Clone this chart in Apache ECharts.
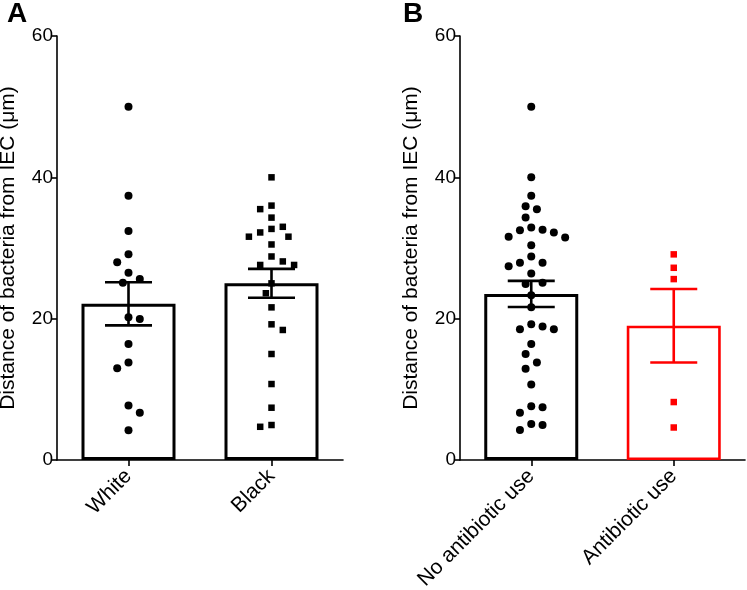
<!DOCTYPE html>
<html>
<head>
<meta charset="utf-8">
<script src="https://cdn.jsdelivr.net/npm/echarts@6/dist/echarts.min.js"></script>
<style>html,body{margin:0;padding:0;background:#fff}#c{width:747px;height:590px}</style>
</head>
<body>
<div id="c"></div>
<script>
// ---------- data ----------
const panelACategories = ['White', 'Black'];
const panelBCategories = ['No antibiotic use', 'Antibiotic use'];
const yTicks = [0, 20, 40, 60];
const yAxisTitle = 'Distance of bacteria from IEC (\u03bcm)';

const whiteValues = [50, 37.4, 32.4, 29.1, 28.0, 26.5, 25.6, 25.1, 20.2, 19.95, 16.4, 13.8, 13.0, 7.7, 6.7, 4.2];
const blackValues = [40, 36.0, 35.5, 34.3, 32.7, 33.0, 31.6, 32.2, 31.6, 30.5, 28.8, 28.1, 27.6, 27.6, 25.0, 23.6,
                     21.6, 19.2, 18.4, 15.0, 10.75, 7.4, 4.95, 4.7];
const noAntibioticValues = [50, 40, 37.4, 35.5, 35.9, 34.3, 32.9, 32.5, 32.6, 31.6, 32.2, 31.5, 30.4, 28.8, 27.9, 27.4, 27.9,
                            26.4, 24.9, 25.1, 23.3, 21.6, 19.2, 18.5, 18.5, 18.9, 16.4, 15.0, 13.8, 12.9, 10.7,
                            7.45, 6.7, 7.6, 5.1, 4.25, 4.95];
const antibioticValues = [29.1, 27.2, 25.6, 8.2, 4.6];

const panelAMeans = [22.1, 25.0];
const panelASEM = [3.05, 2.05];
const panelBMeans = [23.5, 19.0];
const panelBSEM = [1.85, 5.2];

// ---------- layout / style ----------
const FONT = '"Liberation Sans", Arial, Helvetica, sans-serif';
const GRID_TOP = 36, GRID_H = 424;
const gridA = {left: 57, top: GRID_TOP, width: 286, height: GRID_H, outerBoundsMode: 'none', containLabel: false};
const gridB = {left: 460, top: GRID_TOP, width: 285, height: GRID_H, outerBoundsMode: 'none', containLabel: false};
const RED = '#ff0000', BLACK = '#000000';

// simple beeswarm: returns x offsets (in category units) computed from values
function swarm(values, bandPx) {
  const pxPerUnit = GRID_H / 60;
  const D = 11.3, STEP = 5.65;
  const order = values.map((v, i) => i).sort((a, b) => values[b] - values[a]);
  const placed = [];
  const offs = new Array(values.length).fill(0);
  let pref = -1;
  order.forEach(i => {
    const y = values[i] * pxPerUnit;
    const free = x => placed.every(p => Math.hypot(p[0] - x, p[1] - y) >= D - 0.01);
    let chosen = 0;
    if (!free(0)) {
      for (let k = 1; k < 20; k++) {
        const a = pref * k * STEP, b = -pref * k * STEP;
        if (free(a)) { chosen = a; pref = -pref; break; }
        if (free(b)) { chosen = b; break; }
      }
    }
    placed.push([chosen, y]);
    offs[i] = chosen / bandPx;
  });
  return offs;
}

function scatterData(values, catIndex, bandPx) {
  const offs = swarm(values, bandPx);
  return values.map((v, i) => [catIndex + offs[i], v]);
}

function errRender(params, api) {
  const x = api.value(0), m = api.value(1), e = api.value(2);
  const top = api.coord([x, m + e]);
  const bot = api.coord([x, m - e]);
  const hw = 23.5;
  const color = api.visual('color');
  const st = {stroke: color, lineWidth: 2.6};
  return {
    type: 'group',
    children: [
      {type: 'line', shape: {x1: top[0], y1: top[1], x2: bot[0], y2: bot[1]}, style: st},
      {type: 'line', shape: {x1: top[0] - hw, y1: top[1], x2: top[0] + hw, y2: top[1]}, style: st},
      {type: 'line', shape: {x1: bot[0] - hw, y1: bot[1], x2: bot[0] + hw, y2: bot[1]}, style: st}
    ]
  };
}

function yAxisDef(gridIndex) {
  return {
    type: 'value', gridIndex, min: yTicks[0], max: yTicks[yTicks.length - 1], interval: yTicks[1] - yTicks[0],
    name: yAxisTitle, nameLocation: 'middle', nameGap: 38,
    nameTextStyle: {fontFamily: FONT, fontSize: 21, color: '#000'},
    axisLine: {show: true, onZero: false, lineStyle: {color: '#000', width: 1.6}},
    axisTick: {show: true, length: 5, lineStyle: {color: '#000', width: 1.6}},
    axisLabel: {fontFamily: FONT, fontSize: 19, color: '#000', margin: 4},
    splitLine: {show: false}
  };
}
function catAxisDef(gridIndex, cats) {
  return {
    type: 'category', gridIndex, data: cats,
    axisLine: {show: true, onZero: false, lineStyle: {color: '#000', width: 1.6}},
    axisTick: {show: true, alignWithLabel: true, length: 6, lineStyle: {color: '#000', width: 1.6}},
    axisLabel: {fontFamily: FONT, fontSize: 21, color: '#000', rotate: 45, margin: 13, interval: 0}
  };
}
function valXAxisDef(gridIndex) {
  return {type: 'value', gridIndex, min: -0.5, max: 1.5, show: false};
}

const bandA = gridA.width / 2, bandB = gridB.width / 2;

const option = {
  animation: false,
  backgroundColor: '#fff',
  grid: [gridA, gridB],
  xAxis: [catAxisDef(0, panelACategories), valXAxisDef(0), catAxisDef(1, panelBCategories), valXAxisDef(1)],
  yAxis: [yAxisDef(0), yAxisDef(1)],
  graphic: [
    {type: 'text', left: 7, top: 0, style: {text: 'A', fontFamily: FONT, fontSize: 28, fontWeight: 'bold', fill: '#000'}},
    {type: 'text', left: 403, top: 0, style: {text: 'B', fontFamily: FONT, fontSize: 28, fontWeight: 'bold', fill: '#000'}}
  ],
  series: [
    {
      type: 'bar', xAxisIndex: 0, yAxisIndex: 0, barWidth: 94, z: 1,
      data: panelAMeans.map(v => ({value: v, itemStyle: {color: '#fff', borderColor: BLACK, borderWidth: 3}}))
    },
    {
      type: 'bar', xAxisIndex: 2, yAxisIndex: 1, barWidth: 94, z: 1,
      data: panelBMeans.map((v, i) => ({value: v, itemStyle: {color: '#fff', borderColor: i === 0 ? BLACK : RED, borderWidth: i === 0 ? 3 : 2.6}}))
    },
    {type: 'scatter', xAxisIndex: 1, yAxisIndex: 0, symbol: 'circle', symbolSize: 8, z: 3,
      itemStyle: {color: BLACK, opacity: 1}, data: scatterData(whiteValues, 0, bandA)},
    {type: 'scatter', xAxisIndex: 1, yAxisIndex: 0, symbol: 'rect', symbolSize: 6.5, z: 3,
      itemStyle: {color: BLACK, opacity: 1}, data: scatterData(blackValues, 1, bandA)},
    {type: 'scatter', xAxisIndex: 3, yAxisIndex: 1, symbol: 'circle', symbolSize: 8, z: 3,
      itemStyle: {color: BLACK, opacity: 1}, data: scatterData(noAntibioticValues, 0, bandB)},
    {type: 'scatter', xAxisIndex: 3, yAxisIndex: 1, symbol: 'rect', symbolSize: 6.5, z: 3,
      itemStyle: {color: RED, opacity: 1}, data: scatterData(antibioticValues, 1, bandB)},
    {type: 'custom', xAxisIndex: 0, yAxisIndex: 0, z: 4, renderItem: errRender,
      data: panelAMeans.map((m, i) => ({value: [i, m, panelASEM[i]], itemStyle: {color: BLACK}}))},
    {type: 'custom', xAxisIndex: 2, yAxisIndex: 1, z: 4, renderItem: errRender,
      data: panelBMeans.map((m, i) => ({value: [i, m, panelBSEM[i]], itemStyle: {color: i === 0 ? BLACK : RED}}))}
  ]
};
const chart = echarts.init(document.getElementById('c'), null, {renderer: 'canvas'});
chart.setOption(option);
</script>
</body>
</html>
